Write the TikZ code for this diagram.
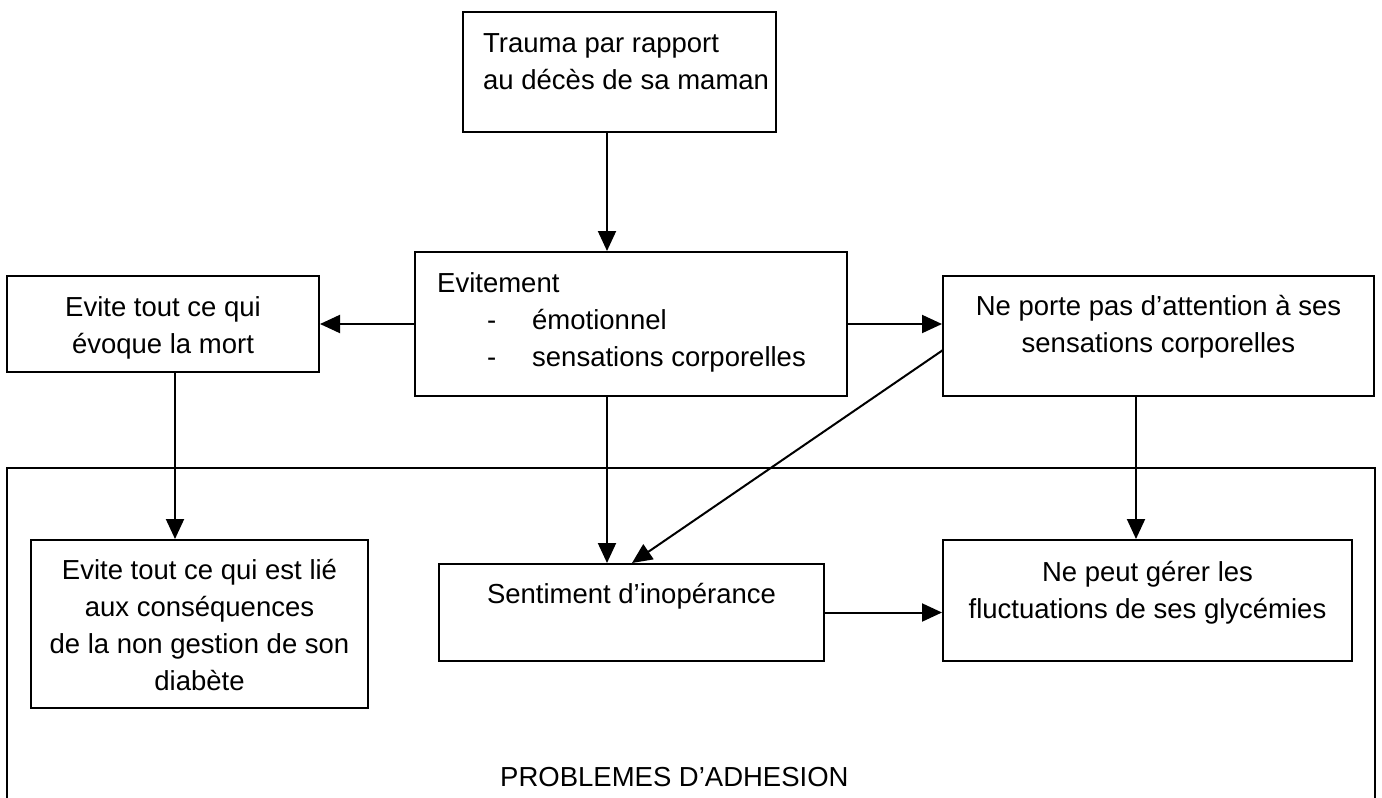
\documentclass[tikz,border=0pt]{standalone}
\usepackage{fontspec}
\setmainfont{Liberation Sans}
\usetikzlibrary{arrows.meta}

\tikzset{
  box/.style={draw, line width=2pt, rectangle, inner sep=0pt},
  lbl/.style={inner sep=0pt, font=\fontsize{27.5}{37}\selectfont},
  arr/.style={line width=2pt, -{Triangle[length=20pt,width=18pt]}}
}

\begin{document}
\begin{tikzpicture}[x=1pt,y=-1pt]
  \clip (0,0) rectangle (1382,798);
  \fill[white] (0,0) rectangle (1382,798);

  % boxes
  \node[box, minimum width=313, minimum height=120] (T)  at (619.5,72)   {};
  \node[box, minimum width=432, minimum height=144] (E)  at (631,324)    {};
  \node[box, minimum width=312, minimum height=96]  (L)  at (163,324)    {};
  \node[box, minimum width=431, minimum height=120] (R)  at (1158.5,336) {};
  \node[box, minimum width=1368, minimum height=362] (B) at (691,649)    {};
  \node[box, minimum width=337, minimum height=168] (IL) at (199.5,624)  {};
  \node[box, minimum width=385, minimum height=97]  (S)  at (631.5,612.5) {};
  \node[box, minimum width=409, minimum height=121] (N)  at (1147.5,600.5) {};

  % texts (base anchor = baseline of the last line)
  \node[lbl, anchor=base west, align=left] (tT) at (483,89)
    {Trauma par rapport\\au décès de sa maman};
  \node[lbl, anchor=base west, align=left] (tE) at (437,366)
    {Evitement\\
     \hspace*{50pt}\makebox[45pt][l]{-}émotionnel\\
     \hspace*{50pt}\makebox[45pt][l]{-}sensations corporelles};
  \node[lbl, anchor=base, align=center] (tL) at (163,353)
    {Evite tout ce qui\\évoque la mort};
  \node[lbl, anchor=base, align=center] (tR) at (1158.5,352)
    {Ne porte pas d’attention à ses\\sensations corporelles};
  \node[lbl, anchor=base, align=center] (tIL) at (199.5,690)
    {Evite tout ce qui est lié\\aux conséquences\\de la non gestion de son\\diabète};
  \node[lbl, anchor=base] (tS) at (631.5,603) {Sentiment d’inopérance};
  \node[lbl, anchor=base, align=center] (tN) at (1147.5,618)
    {Ne peut gérer les\\fluctuations de ses glycémies};
  \node[lbl, anchor=base west] (tB) at (500,786) {PROBLEMES D’ADHESION};

  % connector columns
  \coordinate (cx) at (607,0);
  \coordinate (lx) at (175,0);
  \coordinate (rx) at (1136,0);
  \coordinate (dx) at (632,0);
  \coordinate (d1) at (943,350);

  % connectors
  \draw[arr] (T.south -| cx) -- (E.north -| cx);
  \draw[arr] (E.west) -- (L.east);
  \draw[arr] (E.east) -- (E.east -| R.west);
  \draw[arr] (L.south -| lx) -- (IL.north -| lx);
  \draw[arr] (E.south -| cx) -- (S.north -| cx);
  \draw[arr] (d1) -- (S.north -| dx);
  \draw[arr] (R.south -| rx) -- (N.north -| rx);
  \draw[arr] (S.east) -- (S.east -| N.west);
\end{tikzpicture}
\end{document}
